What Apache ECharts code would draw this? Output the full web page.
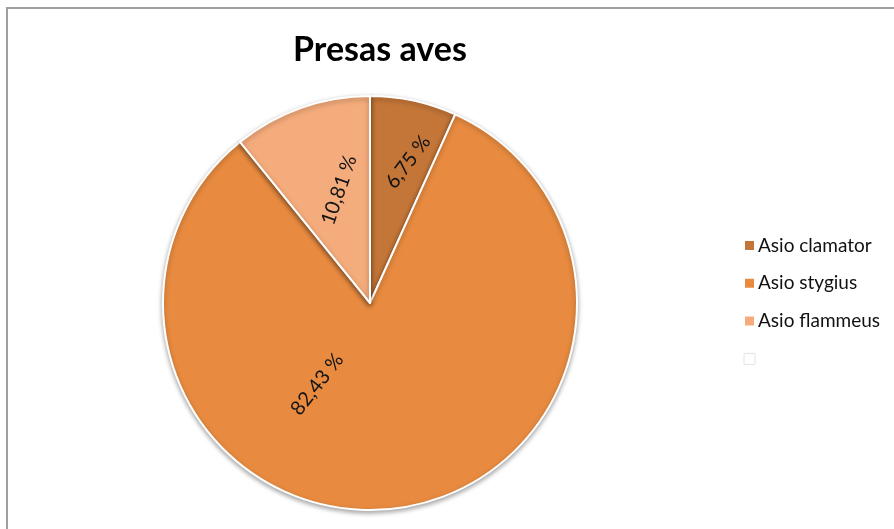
<!DOCTYPE html>
<html>
<head>
<meta charset="utf-8">
<script src="https://cdn.jsdelivr.net/npm/echarts@6/dist/echarts.min.js"></script>
<style>
  html, body { margin: 0; padding: 0; background: #fff; }
  #frame { position: absolute; left: 6px; top: 7px; width: 900px; height: 540px;
           border-top: 2px solid #a0a0a0; border-left: 2px solid #a0a0a0; }
  #chart { position: absolute; left: 0; top: 0; width: 894px; height: 529px; }
</style>
</head>
<body>
<div id="frame"></div>
<div id="chart"></div>
<script>
const titleText = 'Presas aves';
const categories = ['Asio clamator', 'Asio stygius', 'Asio flammeus', ' '];
const values = [6.75, 82.43, 10.81, 0];
const colors = ['#C47638', '#E88B40', '#F5AC7C', '#ffffff'];

const FONT = 'Lato, "Open Sans", sans-serif';
const fmt = v => v.toFixed(2).replace('.', ',') + ' %';

const baseData = categories.map((c, i) => ({
  name: c, value: values[i],
  itemStyle: i === 3 ? { color: colors[i], borderWidth: 0, shadowBlur: 0 } : { color: colors[i] }
}));

// label-only overlay series: [index, label distance from centre, startAngle, rotation]
const labelSpecs = [
  [0, 143, 87, 53],
  [2, 114, 85.8, 71],
  [1, 94, 49.7, 52]
];

const labelSeries = labelSpecs.map(([idx, dist, start, rot]) => ({
  type: 'pie',
  center: [370, 303],
  radius: [0, dist * 2],
  startAngle: start,
  silent: true,
  z: 5,
  emphasis: { disabled: true },
  labelLine: { show: false },
  data: categories.map((c, i) => ({
    name: c, value: values[i],
    itemStyle: { color: 'rgba(0,0,0,0)', borderWidth: 0 },
    label: i === idx ? {
      show: true, position: 'inside', rotate: rot,
      formatter: p => fmt(p.value),
      fontFamily: FONT, fontSize: 20, color: '#141414'
    } : { show: false }
  }))
}));

const chart = echarts.init(document.getElementById('chart'), null, { renderer: 'canvas' });
chart.setOption({
  animation: false,
  backgroundColor: 'transparent',
  title: {
    text: titleText, left: 288, top: 28,
    textStyle: { fontFamily: FONT, fontSize: 34, fontWeight: 'bold', color: '#000' }
  },
  legend: {
    orient: 'vertical', left: 738, top: 231,
    itemWidth: 11, itemHeight: 11, itemGap: 18.8, icon: 'rect',
    selectedMode: false,
    textStyle: { fontFamily: FONT, fontSize: 19, color: '#111', padding: [0, 0, 0, -2] },
    data: [
      { name: categories[0] },
      { name: categories[1] },
      { name: categories[2] },
      { name: categories[3], itemStyle: { color: '#ffffff', borderColor: '#e4e4e4', borderWidth: 1 } }
    ]
  },
  series: [{
    type: 'pie',
    center: [370, 303],
    radius: [0, 207],
    startAngle: 90,
    clockwise: true,
    silent: true,
    label: { show: false },
    labelLine: { show: false },
    itemStyle: { borderColor: '#ffffff', borderWidth: 2,
                 shadowBlur: 5, shadowColor: 'rgba(0,0,0,0.35)', shadowOffsetY: 2 },
    data: baseData
  }].concat(labelSeries)
});
</script>
</body>
</html>
